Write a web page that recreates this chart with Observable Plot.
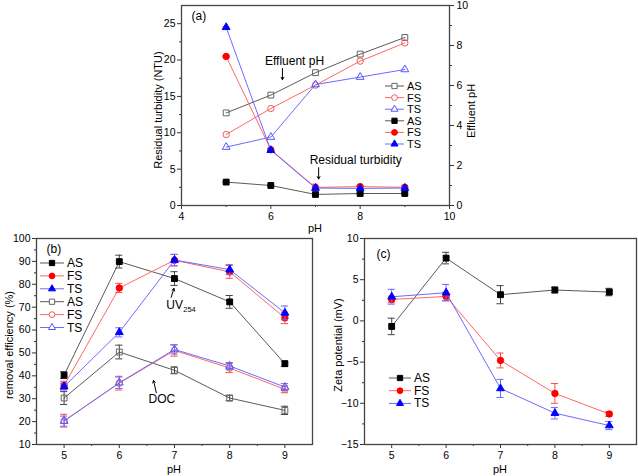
<!DOCTYPE html>
<html><head><meta charset="utf-8">
<script src="https://cdn.jsdelivr.net/npm/d3@7"></script>
<script src="https://cdn.jsdelivr.net/npm/@observablehq/plot@0.6"></script>
<style>
body{margin:0;background:#fff;font-family:"Liberation Sans",Arial,sans-serif;}
#wrap{position:relative;width:638px;height:476px;overflow:hidden;background:#fff}
#wrap > svg{position:absolute}
</style></head><body><div id="wrap"></div>
<script>
// ---------- data ----------
const pH = [5, 6, 7, 8, 9];
const seriesNames = ["AS", "FS", "TS"];
// (a) effluent pH (right axis)
const effluentAS = [4.63, 5.52, 6.64, 7.57, 8.40];
const effluentFS = [3.55, 4.85, 6.02, 7.22, 8.13];
const effluentTS = [2.92, 3.42, 6.05, 6.42, 6.80];
// (a) residual turbidity (NTU)
const turbAS = [3.22, 2.75, 1.52, 1.65, 1.65];
const turbFS = [20.5, 7.67, 2.48, 2.60, 2.50];
const turbTS = [24.5, 7.60, 2.40, 2.35, 2.40];
const turbErrAS = [0.1, 0.1, 0.15, 0.1, 0.1];
const turbErrFS = [0.1, 0.15, 0.45, 0.15, 0.2];
const turbErrTS = [0.1, 0.15, 0.3, 0.15, 0.15];
// (b) removal efficiency (%) - UV254
const uvAS = [40.3, 89.9, 82.5, 72.3, 45.3];
const uvFS = [35.8, 78.4, 90.5, 85.4, 65.3];
const uvTS = [35.3, 59.0, 90.6, 86.4, 67.5];
const uvErrAS = [1.5, 2.8, 3.0, 2.8, 1.2];
const uvErrFS = [1.8, 2.0, 2.5, 2.8, 2.5];
const uvErrTS = [1.5, 2.0, 2.5, 2.2, 3.0];
// (b) removal efficiency (%) - DOC
const docAS = [30.3, 50.4, 42.4, 30.3, 24.9];
const docFS = [20.4, 36.8, 51.1, 43.4, 34.1];
const docTS = [20.2, 37.0, 51.5, 44.3, 35.1];
const docErrAS = [2.8, 3.0, 1.5, 1.2, 1.8];
const docErrFS = [2.8, 3.0, 2.5, 2.0, 1.5];
const docErrTS = [2.2, 2.5, 2.0, 1.5, 1.5];
// (c) zeta potential (mV)
const zetaAS = [-0.67, 7.62, 3.18, 3.75, 3.50];
const zetaFS = [2.60, 2.97, -4.80, -8.80, -11.30];
const zetaTS = [2.93, 3.42, -8.20, -11.20, -12.70];
const zetaErrAS = [1.0, 0.7, 1.1, 0.35, 0.45];
const zetaErrFS = [0.4, 0.5, 0.9, 1.2, 0.3];
const zetaErrTS = [0.9, 1.0, 1.1, 0.7, 0.5];
// tick labels
const xTicksA = [4, 6, 8, 10], xMinorA = [5, 7, 9];
const yTicksA = [0, 5, 10, 15, 20, 25], yMinorA = [2.5, 7.5, 12.5, 17.5, 22.5];
const yRightTicksA = [0, 2, 4, 6, 8, 10], yRightMinorA = [1, 3, 5, 7, 9];
const xTicksBC = [5, 6, 7, 8, 9], xMinorBC = [5.5, 6.5, 7.5, 8.5];
const yTicksB = [10, 20, 30, 40, 50, 60, 70, 80, 90, 100], yMinorB = [15, 25, 35, 45, 55, 65, 75, 85, 95];
const yTicksC = [-15, -10, -5, 0, 5, 10], yMinorC = [-12.5, -7.5, -2.5, 2.5, 7.5];

// ---------- styles ----------
const lineColor = {AS: "#5a5a5a", FS: "#ff6666", TS: "#6b6bff"};
const markColor = {AS: "#000000", FS: "#ff0000", TS: "#0000ff"};
const openColor = {AS: "#666666", FS: "#f05a5a", TS: "#5555ff"};
const errColor = {AS: "#444444", FS: "#ff4d4d", TS: "#6b6bff"};
const symbolOf = {AS: "square", FS: "circle", TS: "triangle"};
const rOf = {AS: 3.3, FS: 3.2, TS: 2.9};
const FONT = "'Liberation Sans', Arial, sans-serif";
const wrap = document.getElementById("wrap");

function rows(values, errs, mul = 1) {
  return pH.map((x, i) => ({x, v: values[i] * mul, e: (errs ? errs[i] : 0) * mul}));
}
function seriesMarks(data, key, open, withErr, capW) {
  const m = [];
  m.push(Plot.line(data, {x: "x", y: "v", stroke: lineColor[key], strokeWidth: 1}));
  if (withErr) {
    m.push(Plot.ruleX(data, {x: "x", y1: d => d.v - d.e, y2: d => d.v + d.e, stroke: errColor[key], strokeWidth: 1}));
    m.push(Plot.ruleY(data, {y: d => d.v + d.e, x1: d => d.x - capW, x2: d => d.x + capW, stroke: errColor[key], strokeWidth: 1}));
    m.push(Plot.ruleY(data, {y: d => d.v - d.e, x1: d => d.x - capW, x2: d => d.x + capW, stroke: errColor[key], strokeWidth: 1}));
  }
  m.push(Plot.dot(data, {x: "x", y: "v", symbol: () => symbolOf[key], r: rOf[key],
    fill: open ? "none" : markColor[key], stroke: open ? openColor[key] : markColor[key], strokeWidth: 1}));
  return m;
}
function axes(xT, xM, yT, yM) {
  return [
    Plot.axisX(xT, {tickSize: 4, tickPadding: 3, label: null, stroke: "#333"}),
    Plot.axisX(xM, {tickSize: 2, tickFormat: () => "", label: null, stroke: "#333"}),
    Plot.axisY(yT, {anchor: "left", tickSize: 4, tickPadding: 2, label: null, stroke: "#333"}),
    Plot.axisY(yM, {anchor: "left", tickSize: 2, tickFormat: () => "", label: null, stroke: "#333"})
  ];
}
function place(svg, left, top) {
  svg.style.left = left + "px"; svg.style.top = top + "px";
  wrap.appendChild(svg);
}
const baseStyle = {fontFamily: FONT, fontSize: "10.5px", background: "transparent", overflow: "visible", color: "#000"};

// ---------- panel (a) ----------
const K = 2.75; // right-axis (effluent pH 0-10) mapped onto left axis (0-27.5)
const panelA = Plot.plot({
  width: 370, height: 240, marginLeft: 51, marginRight: 51, marginTop: 5, marginBottom: 35,
  style: baseStyle,
  x: {domain: [4, 10]},
  y: {domain: [0, 27.5]},
  marks: [
    ...axes(xTicksA, xMinorA, yTicksA, yMinorA),
    Plot.axisY(yRightTicksA.map(v => v * K), {anchor: "right", tickSize: 4, tickPadding: 3, label: null, tickFormat: d => String(Math.round(d / K)), stroke: "#333"}),
    Plot.axisY(yRightMinorA.map(v => v * K), {anchor: "right", tickSize: 2, tickFormat: () => "", label: null, stroke: "#333"}),
    ...seriesMarks(rows(effluentAS, null, K), "AS", true, false),
    ...seriesMarks(rows(effluentFS, null, K), "FS", true, false),
    ...seriesMarks(rows(effluentTS, null, K), "TS", true, false),
    ...seriesMarks(rows(turbAS, turbErrAS), "AS", false, true, 0.07),
    ...seriesMarks(rows(turbFS, turbErrFS), "FS", false, true, 0.07),
    ...seriesMarks(rows(turbTS, turbErrTS), "TS", false, true, 0.07),
    Plot.text(["(a)"], {frameAnchor: "top-left", dx: 10, dy: 11, lineAnchor: "middle", textAnchor: "start", fontSize: 12}),
    Plot.text(["Effluent pH"], {x: 6.53, y: 19.9, fontSize: 12}),
    Plot.arrow([0], {x1: 6.26, y1: 18.85, x2: 6.26, y2: 17.3, headLength: 4, strokeWidth: 1, stroke: "#000"}),
    Plot.text(["Residual turbidity"], {x: 6.87, y: 6.3, textAnchor: "start", fontSize: 12}),
    Plot.arrow([0], {x1: 7.07, y1: 5.2, x2: 7.07, y2: 3.65, headLength: 4, strokeWidth: 1, stroke: "#000"}),
    Plot.frame({stroke: "#444", strokeWidth: 1.3})
  ]
});
place(panelA, 130, 0);

// ---------- panel (b) ----------
const panelB = Plot.plot({
  width: 320, height: 246, marginLeft: 36, marginRight: 8, marginTop: 8, marginBottom: 32,
  style: baseStyle,
  x: {domain: [4.5, 9.5]},
  y: {domain: [10, 100]},
  marks: [
    ...axes(xTicksBC, xMinorBC, yTicksB, yMinorB),
    ...seriesMarks(rows(docAS, docErrAS), "AS", true, true, 0.065),
    ...seriesMarks(rows(docFS, docErrFS), "FS", true, true, 0.065),
    ...seriesMarks(rows(docTS, docErrTS), "TS", true, true, 0.065),
    ...seriesMarks(rows(uvAS, uvErrAS), "AS", false, true, 0.065),
    ...seriesMarks(rows(uvFS, uvErrFS), "FS", false, true, 0.065),
    ...seriesMarks(rows(uvTS, uvErrTS), "TS", false, true, 0.065),
    Plot.text(["(b)"], {frameAnchor: "top-left", dx: 10, dy: 11, lineAnchor: "middle", textAnchor: "start", fontSize: 12}),
    Plot.text(["UV"], {x: 6.85, y: 70.8, textAnchor: "start", fontSize: 12}),
    Plot.text(["254"], {x: 6.85, y: 70.8, dx: 17, dy: 4, textAnchor: "start", fontSize: 7.5}),
    Plot.arrow([0], {x1: 6.94, y1: 74.3, x2: 6.99, y2: 78.2, headLength: 4, strokeWidth: 1, stroke: "#000"}),
    Plot.text(["DOC"], {x: 6.53, y: 29.7, textAnchor: "start", fontSize: 12}),
    Plot.arrow([0], {x1: 6.67, y1: 32.6, x2: 6.62, y2: 38.0, headLength: 4, strokeWidth: 1, stroke: "#000"}),
    Plot.frame({stroke: "#444", strokeWidth: 1.3})
  ]
});
place(panelB, 0, 230);

// ---------- panel (c) ----------
const panelC = Plot.plot({
  width: 318, height: 246, marginLeft: 44, marginRight: 2, marginTop: 8, marginBottom: 32,
  style: baseStyle,
  x: {domain: [4.5, 9.5]},
  y: {domain: [-15, 10]},
  marks: [
    ...axes(xTicksBC, xMinorBC, yTicksC, yMinorC),
    ...seriesMarks(rows(zetaAS, zetaErrAS), "AS", false, true, 0.065),
    ...seriesMarks(rows(zetaFS, zetaErrFS), "FS", false, true, 0.065),
    ...seriesMarks(rows(zetaTS, zetaErrTS), "TS", false, true, 0.065),
    Plot.text(["(c)"], {frameAnchor: "top-left", dx: 12, dy: 16, lineAnchor: "middle", textAnchor: "start", fontSize: 12}),
    Plot.frame({stroke: "#444", strokeWidth: 1.3})
  ]
});
place(panelC, 320, 230);

// ---------- overlay: axis titles and legends ----------
const ov = d3.create("svg").attr("width", 638).attr("height", 476)
  .style("left", "0px").style("top", "0px").style("pointer-events", "none")
  .style("font-family", FONT);
function title(txt, x, y, rot) {
  ov.append("text").attr("transform", `translate(${x},${y}) rotate(${rot || 0})`)
    .attr("text-anchor", "middle").attr("dominant-baseline", "central")
    .attr("font-size", 11).attr("fill", "#000").text(txt);
}
title("pH", 315, 228);
title("Residual turbidity (NTU)", 158, 110, -90);
title("Effluent pH", 471, 111, -90);
title("pH", 174, 469);
title("removal efficiency (%)", 9, 345, -90);
title("pH", 500, 469);
title("Zeta potential (mV)", 338, 345, -90);

function legend(entries, x0, x1, y0, dy, tx, fs) {
  entries.forEach((en, i) => {
    const y = y0 + i * dy;
    const g = ov.append("g");
    g.append("line").attr("x1", x0).attr("x2", x1).attr("y1", y).attr("y2", y)
      .attr("stroke", lineColor[en.key]).attr("stroke-width", 1);
    const sym = {square: d3.symbolSquare, circle: d3.symbolCircle, triangle: d3.symbolTriangle}[symbolOf[en.key]];
    const r = rOf[en.key] * 0.9;
    g.append("path").attr("d", d3.symbol(sym, Math.PI * r * r)())
      .attr("transform", `translate(${(x0 + x1) / 2},${y})`)
      .attr("fill", en.open ? "#fff" : markColor[en.key])
      .attr("stroke", en.open ? openColor[en.key] : markColor[en.key]);
    g.append("text").attr("x", tx).attr("y", y).attr("dominant-baseline", "central")
      .attr("font-size", fs).attr("fill", "#000").text(en.key);
  });
}
const legOpenFirst = [...seriesNames.map(k => ({key: k, open: true})), ...seriesNames.map(k => ({key: k, open: false}))];
const legFilledFirst = [...seriesNames.map(k => ({key: k, open: false})), ...seriesNames.map(k => ({key: k, open: true}))];
legend(legOpenFirst, 385, 404, 86, 11.6, 407, 11);
legend(legFilledFirst, 40, 64, 263, 12.9, 67, 12);
legend(seriesNames.map(k => ({key: k, open: false})), 389, 411, 378, 12.7, 414, 12);
wrap.appendChild(ov.node());
</script>
</body></html>
